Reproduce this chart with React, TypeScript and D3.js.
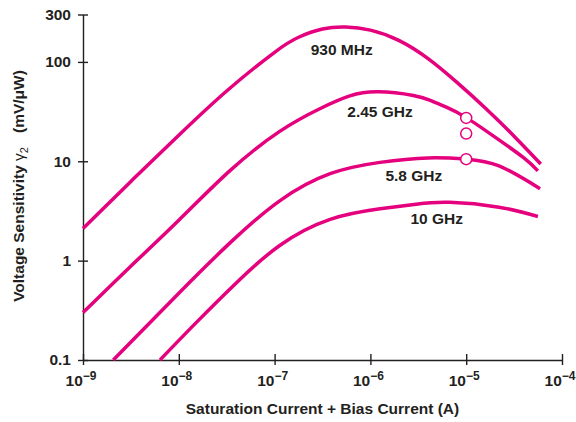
import React, { useEffect, useRef } from 'react';
import * as d3 from 'd3';

// curve names
const seriesNames = ['930 MHz', '2.45 GHz', '5.8 GHz', '10 GHz'];

// saturation + bias current (A) and voltage sensitivity (mV/uW)
const current930 = [1e-9, 3.16e-9, 1e-8, 3.16e-8, 1e-7, 1.78e-7, 3.16e-7, 5.5e-7, 1e-6, 2e-6, 4e-6, 7.9e-6, 1.58e-5, 3.16e-5, 6e-5];
const sens930 = [2.1, 6.27, 18.3, 51, 125, 177, 214, 224, 209, 164, 108, 63, 34.4, 17.9, 9.4];

const current245 = [1e-9, 3e-9, 1e-8, 3.4e-8, 1.13e-7, 3e-7, 6.1e-7, 1.2e-6, 2.8e-6, 4.2e-6, 6.2e-6, 1e-5, 2e-5, 4e-5, 5.6e-5];
const sens245 = [0.3, 0.84, 2.55, 8.0, 20, 34, 45.5, 50, 46, 41, 35, 27.5, 17.5, 10.8, 8.0];

const current58 = [2.07e-9, 1e-8, 3.4e-8, 1.13e-7, 3.8e-7, 1.26e-6, 4e-6, 1e-5, 2.2e-5, 5.9e-5];
const sens58 = [0.1, 0.47, 1.5, 4.0, 7.5, 9.75, 10.8, 10.5, 9.0, 5.3];

const current10 = [6.36e-9, 1.5e-8, 4e-8, 1.13e-7, 3.8e-7, 1.26e-6, 3e-6, 6.7e-6, 2.2e-5, 5.6e-5];
const sens10 = [0.1, 0.235, 0.6, 1.42, 2.6, 3.32, 3.7, 3.86, 3.45, 2.78];

// open circle markers at 10 uA
const markerCurrent = [1e-5, 1e-5, 1e-5];
const markerSens = [27.3, 19, 10.5];

// label anchors (centre, baseline) in data units
const labelCurrent = [5.02e-7, 1.26e-6, 2.84e-6, 4.92e-6];
const labelSens = [117, 28.1, 6.4, 2.34];

const xTicks = [1e-9, 1e-8, 1e-7, 1e-6, 1e-5, 1e-4];
const yTicks = [0.1, 1, 10, 100, 300];

const MAGENTA = '#e5007e';
const INK = '#231f20';
const FONT = "'Liberation Sans', Arial, Helvetica, sans-serif";

export default function App() {
  const svgRef = useRef<SVGSVGElement>(null);

  useEffect(() => {
    if (!svgRef.current) return;
    const svg = d3.select(svgRef.current);
    svg.selectAll('*').remove();

    const x = d3.scaleLog().domain([1e-9, 1e-4]).range([83, 562]);
    const y = d3.scaleLog().domain([0.1, 300]).range([360, 14.5]);

    const series = [
      current930.map((c, i) => [c, sens930[i]]),
      current245.map((c, i) => [c, sens245[i]]),
      current58.map((c, i) => [c, sens58[i]]),
      current10.map((c, i) => [c, sens10[i]]),
    ];

    // axes
    const yAxis = svg.append('g')
      .attr('transform', `translate(${x(1e-9)},0)`)
      .call(d3.axisLeft(y).tickValues(yTicks).tickFormat(d => String(d)).tickSize(5).tickSizeOuter(0).tickPadding(7));
    yAxis.select('.domain').attr('stroke', INK).attr('stroke-width', 1.4);
    yAxis.selectAll('.tick line').attr('x1', 5).attr('stroke', INK).attr('stroke-width', 1.4);
    yAxis.selectAll('.tick text')
      .style('font-family', FONT)
      .style('font-weight', 'bold')
      .style('font-size', '15.5px')
      .attr('fill', INK);

    const xAxis = svg.append('g')
      .attr('transform', `translate(0,${y(0.1)})`)
      .call(d3.axisBottom(x).tickValues(xTicks).tickFormat(() => '').tickSize(5).tickSizeOuter(0));
    xAxis.select('.domain').attr('stroke', INK).attr('stroke-width', 1.4);
    xAxis.selectAll('.tick line').attr('y1', -6).attr('stroke', INK).attr('stroke-width', 1.4);
    xAxis.selectAll('.tick text').remove();

    const xl = svg.append('g')
      .selectAll('text')
      .data(xTicks)
      .enter()
      .append('text')
      .attr('x', d => x(d) - 2)
      .attr('y', 386)
      .attr('text-anchor', 'middle')
      .attr('fill', INK)
      .style('font-family', FONT)
      .style('font-weight', 'bold')
      .style('font-size', '15.5px');
    xl.append('tspan').text('10');
    xl.append('tspan')
      .attr('dy', -6)
      .style('font-size', '12px')
      .text(d => '\u2212' + String(-Math.round(Math.log10(d))));

    // axis titles
    svg.append('text')
      .attr('x', (x(1e-9) + x(1e-4)) / 2)
      .attr('y', 414)
      .attr('text-anchor', 'middle')
      .attr('fill', INK)
      .style('font-family', FONT)
      .style('font-weight', 'bold')
      .style('font-size', '15.5px')
      .text('Saturation Current + Bias Current (A)');

    const yt = svg.append('text')
      .attr('transform', 'translate(24,186) rotate(-90)')
      .attr('text-anchor', 'middle')
      .attr('fill', INK)
      .style('font-family', FONT)
      .style('font-weight', 'bold')
      .style('font-size', '15.5px');
    yt.append('tspan').text('Voltage Sensitivity ');
    yt.append('tspan').style('font-weight', 'normal').text('\u03b3');
    yt.append('tspan').attr('dy', 4).style('font-size', '11px').style('font-weight', 'normal').text('2');
    yt.append('tspan').attr('dy', -4).attr('dx', 14).text('(mV/\u03bcW)');

    // curves
    const line = d3.line<number[]>()
      .x(d => x(d[0]))
      .y(d => y(d[1]))
      .curve(d3.curveNatural);

    svg.append('g')
      .selectAll('path')
      .data(series)
      .enter()
      .append('path')
      .attr('d', d => line(d))
      .attr('fill', 'none')
      .attr('stroke', MAGENTA)
      .attr('stroke-width', 3.5)
      .attr('stroke-linecap', 'butt');

    svg.append('g')
      .selectAll('circle')
      .data(markerCurrent)
      .enter()
      .append('circle')
      .attr('cx', d => x(d))
      .attr('cy', (d, i) => y(markerSens[i]))
      .attr('r', 5.5)
      .attr('fill', 'white')
      .attr('stroke', MAGENTA)
      .attr('stroke-width', 1.5);

    svg.append('g')
      .selectAll('text')
      .data(seriesNames)
      .enter()
      .append('text')
      .attr('x', (d, i) => x(labelCurrent[i]))
      .attr('y', (d, i) => y(labelSens[i]))
      .attr('text-anchor', 'middle')
      .attr('fill', INK)
      .style('font-family', FONT)
      .style('font-weight', 'bold')
      .style('font-size', '15.5px')
      .text(d => d);
  }, []);

  return (
    <svg
      ref={svgRef}
      width={576}
      height={422}
      style={{ position: 'absolute', left: 0, top: 0, background: 'white' }}
    />
  );
}
